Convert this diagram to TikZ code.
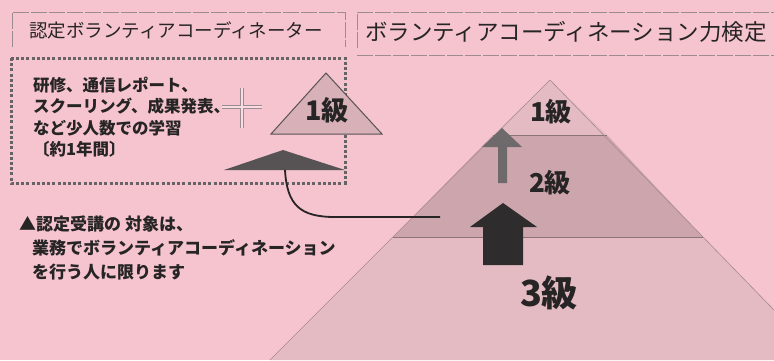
\documentclass[tikz,border=0pt]{standalone}
\usepackage{fontspec}
\setmainfont{Noto Sans CJK JP}
\usepackage{tikz}

\definecolor{bgpink}{HTML}{F5C4CF}
\definecolor{levelone}{HTML}{E4BBC3}
\definecolor{leveltwo}{HTML}{CDA5AD}
\definecolor{levelthree}{HTML}{E4BBC3}
\definecolor{edgegray}{HTML}{8C7478}
\definecolor{trifill}{HTML}{D8B0B8}
\definecolor{umbgray}{HTML}{575254}
\definecolor{arrowgray}{HTML}{6E6A6C}
\definecolor{arrowdark}{HTML}{2E2C2D}
\definecolor{inkblack}{HTML}{262424}
\definecolor{dotgray}{HTML}{656365}
\definecolor{linegray}{HTML}{9A8C90}

\begin{document}
\begin{tikzpicture}[x=1pt, y=-1pt, text=inkblack,
  headtext/.style={font=\fontsize{18.5}{18.5}\selectfont, inner sep=0pt},
  bodytext/.style={font=\fontsize{16.5}{21.3}\selectfont\bfseries, align=left, inner sep=0pt},
  gradetext/.style={font=\fontsize{26}{26}\selectfont\bfseries, inner sep=0pt},
  headframe/.style={draw=linegray, line width=0.7pt, dash pattern=on 16pt off 2pt},
  levelline/.style={draw=edgegray, line width=1pt}]

\fill[bgpink] (0,0) rectangle (774,360);
\useasboundingbox (0,0) rectangle (774,360);

\draw[headframe] (12,47) -- (12,12) -- (345,12) -- (345,47);
\draw[headframe] (357,48) -- (357,12) -- (774,12);
\draw[headframe] (357,55) -- (774,55);
\node[headtext] (coordtitle) at (176,30) {認定ボランティアコーディネーター};
\node[headtext, font=\fontsize{22.5}{22.5}\selectfont] (testtitle) at (566,32) {ボランティアコーディネーション力検定};

\draw[dotgray, line width=3pt, dash pattern=on 3pt off 2.2pt] (11,58) rectangle (345,183);
\node[bodytext, anchor=north west] (study) at (33,77) {研修、通信レポート、\\スクーリング、成果発表、\\など少人数での学習\\〔約1年間〕};

\draw[linegray, line width=3.2pt] (222,107) -- (262,107) (242,88) -- (242,128);
\draw[bgpink!60!white, line width=1.4pt] (222,107) -- (262,107) (242,88) -- (242,128);

\draw[fill=trifill, draw=umbgray, line width=1pt] (326,73) -- (382,134) -- (271,134) -- cycle;
\node[gradetext, font=\fontsize{27}{27}\selectfont\bfseries] (trione) at (327,110) {1級};

\fill[umbgray] (283,150) -- (345,170) -- (224,170) -- cycle;
\coordinate (umb) at (285,170);

\fill[levelthree] (393,237) -- (703,237) -- (774,310) -- (774,360) -- (270,360) -- cycle;
\fill[leveltwo] (493,135) -- (607,135) -- (703,237) -- (393,237) -- cycle;
\fill[levelone] (550,80) -- (607,135) -- (493,135) -- cycle;
\draw[levelline] (493,135) -- (607,135);
\draw[levelline] (393,237) -- (703,237);
\draw[edgegray!70!levelthree, line width=0.6pt] (550,80) -- (393,237) -- (270,360);
\draw[edgegray!70!levelthree, line width=0.6pt] (550,80) -- (703,237) -- (774,310);

\coordinate (lvtwo) at (440,217);
\draw[inkblack, line width=1.8pt] (umb) .. controls (287,205) and (300,217) .. (335,217) -- (lvtwo);

\fill[arrowgray] (498,183) -- (498,147) -- (482,147) -- (502,128) -- (522,147) -- (507,147) -- (507,183) -- cycle;
\fill[arrowdark] (483,265) -- (483,227) -- (470,227) -- (503,203) -- (537,227) -- (523,227) -- (523,265) -- cycle;

\node[gradetext] (gradeone) at (551,112) {1級};
\node[gradetext] (gradetwo) at (550,183) {2級};
\node[gradetext, font=\fontsize{36}{36}\selectfont\bfseries] (gradethree) at (549,293) {3級};

\node[bodytext, font=\fontsize{17}{24}\selectfont\bfseries, anchor=north west] (target) at (19,216) {▲認定受講の 対象は、\\\hspace{13pt}業務でボランティアコーディネーション\\\hspace{13pt}を行う人に限ります};

\end{tikzpicture}
\end{document}
